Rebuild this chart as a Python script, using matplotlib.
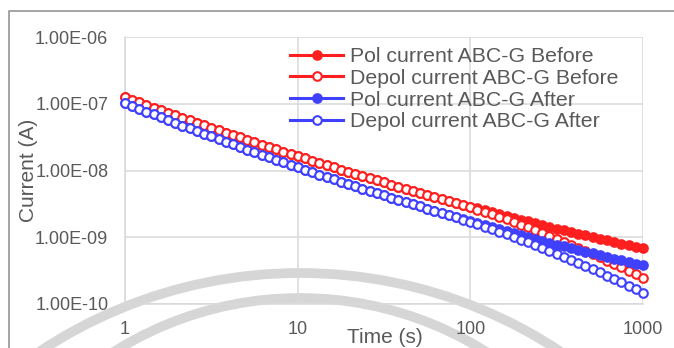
import numpy as np
import matplotlib
matplotlib.use("Agg")
import matplotlib.pyplot as plt
from matplotlib.patches import Circle
from matplotlib.lines import Line2D
from matplotlib.transforms import IdentityTransform
from matplotlib.ticker import FixedLocator, FuncFormatter, NullLocator

plt.rcParams['font.family'] = ['Liberation Sans', 'DejaVu Sans']

# time (s), 24 readings per decade
time_s = [1.00, 1.10, 1.21, 1.33, 1.47, 1.62, 1.78, 1.96, 2.15, 2.37, 2.61, 2.87,
          3.16, 3.48, 3.83, 4.22, 4.64, 5.11, 5.62, 6.19, 6.81, 7.50, 8.25, 9.09,
          10.0, 11.0, 12.1, 13.3, 14.7, 16.2, 17.8, 19.6, 21.5, 23.7, 26.1, 28.7,
          31.6, 34.8, 38.3, 42.2, 46.4, 51.1, 56.2, 61.9, 68.1, 75.0, 82.5, 90.9,
          100, 110, 121, 133, 147, 162, 178, 196, 215, 237, 261, 287,
          316, 348, 383, 422, 464, 511, 562, 619, 681, 750, 825, 909, 1000]

# log10 of current (A)
log_pol_before = [-6.900, -6.939, -6.979, -7.018, -7.057, -7.095, -7.133, -7.172, -7.210, -7.247,
                  -7.285, -7.322, -7.359, -7.396, -7.432, -7.468, -7.504, -7.540, -7.576, -7.611,
                  -7.647, -7.682, -7.716, -7.751, -7.785, -7.819, -7.853, -7.887, -7.920, -7.953,
                  -7.986, -8.019, -8.051, -8.083, -8.115, -8.147, -8.179, -8.210, -8.241, -8.272,
                  -8.303, -8.333, -8.363, -8.393, -8.423, -8.453, -8.482, -8.511, -8.540, -8.569,
                  -8.597, -8.625, -8.653, -8.681, -8.708, -8.736, -8.763, -8.790, -8.816, -8.843,
                  -8.869, -8.895, -8.920, -8.946, -8.971, -8.996, -9.021, -9.046, -9.070, -9.094,
                  -9.118, -9.142, -9.165]
log_depol_before = [-6.900, -6.939, -6.979, -7.018, -7.057, -7.095, -7.133, -7.172, -7.210, -7.247,
                    -7.285, -7.322, -7.359, -7.396, -7.432, -7.468, -7.504, -7.540, -7.576, -7.611,
                    -7.647, -7.682, -7.716, -7.751, -7.785, -7.819, -7.853, -7.887, -7.920, -7.953,
                    -7.986, -8.019, -8.051, -8.083, -8.115, -8.147, -8.179, -8.210, -8.241, -8.272,
                    -8.303, -8.333, -8.363, -8.393, -8.423, -8.455, -8.486, -8.519, -8.552, -8.587,
                    -8.622, -8.658, -8.695, -8.732, -8.771, -8.811, -8.851, -8.892, -8.934, -8.977,
                    -9.020, -9.065, -9.110, -9.156, -9.203, -9.251, -9.300, -9.350, -9.400, -9.451,
                    -9.503, -9.557, -9.610]
log_pol_after = [-6.990, -7.033, -7.076, -7.118, -7.160, -7.202, -7.244, -7.286, -7.327, -7.368,
                 -7.408, -7.449, -7.489, -7.529, -7.568, -7.608, -7.647, -7.686, -7.724, -7.762,
                 -7.800, -7.838, -7.876, -7.913, -7.950, -7.987, -8.023, -8.060, -8.095, -8.131,
                 -8.167, -8.202, -8.237, -8.271, -8.306, -8.340, -8.374, -8.407, -8.441, -8.474,
                 -8.507, -8.539, -8.572, -8.604, -8.635, -8.667, -8.698, -8.729, -8.760, -8.791,
                 -8.821, -8.851, -8.880, -8.910, -8.939, -8.968, -8.997, -9.025, -9.053, -9.081,
                 -9.109, -9.136, -9.163, -9.190, -9.217, -9.243, -9.269, -9.295, -9.320, -9.346,
                 -9.371, -9.396, -9.420]
log_depol_after = [-6.990, -7.033, -7.076, -7.118, -7.160, -7.202, -7.244, -7.286, -7.327, -7.368,
                   -7.408, -7.449, -7.489, -7.529, -7.568, -7.608, -7.647, -7.686, -7.724, -7.762,
                   -7.800, -7.838, -7.876, -7.913, -7.950, -7.987, -8.023, -8.060, -8.095, -8.131,
                   -8.167, -8.202, -8.237, -8.271, -8.306, -8.340, -8.374, -8.407, -8.441, -8.474,
                   -8.507, -8.539, -8.572, -8.604, -8.635, -8.669, -8.702, -8.736, -8.771, -8.808,
                   -8.844, -8.881, -8.918, -8.958, -8.997, -9.037, -9.078, -9.119, -9.161, -9.205,
                   -9.249, -9.293, -9.338, -9.384, -9.431, -9.478, -9.526, -9.575, -9.624, -9.675,
                   -9.726, -9.778, -9.830]

series = [
    ("Pol current ABC-G Before", log_pol_before, "#FF1F1F", True),
    ("Depol current ABC-G Before", log_depol_before, "#FF1F1F", False),
    ("Pol current ABC-G After", log_pol_after, "#4040FF", True),
    ("Depol current ABC-G After", log_depol_after, "#4040FF", False),
]

y_ticks = [1e-10, 1e-9, 1e-8, 1e-7, 1e-6]
x_ticks = [1, 10, 100, 1000]
text_color = "#595959"
grid_color = "#D9D9D9"

fig = plt.figure(figsize=(6.74, 3.48), dpi=100)
fig.patch.set_facecolor("white")

# faint seal behind the chart (pixel coordinates)
for cx, cy, r in [(300, -396, 471), (300, -299, 349)]:
    fig.add_artist(Circle((cx, cy), r, transform=IdentityTransform(), fill=False,
                          edgecolor="#D6D6D6", linewidth=7.0, zorder=-5))

# chart area border
fig.add_artist(Line2D([9 / 674, 9 / 674, 1.0], [0.0, 1 - 11 / 348, 1 - 11 / 348],
                      transform=fig.transFigure, color="#8C8C8C", linewidth=1.1))

ax = fig.add_axes([125 / 674, 44 / 348, 518 / 674, 267 / 348])
ax.set_facecolor("none")
ax.set_xscale("log")
ax.set_yscale("log")
ax.set_xlim(1, 1000)
ax.set_ylim(1e-10, 1e-6)

for label, vals, color, filled in series:
    ax.plot(time_s, 10 ** np.array(vals), "-", color=color, linewidth=2.2,
            marker="o", markersize=6.2, markeredgewidth=1.5,
            markerfacecolor=color if filled else "white", markeredgecolor=color,
            label=label, clip_on=False, zorder=3)

ax.xaxis.set_major_locator(FixedLocator(x_ticks))
ax.yaxis.set_major_locator(FixedLocator(y_ticks))
ax.xaxis.set_minor_locator(NullLocator())
ax.yaxis.set_minor_locator(NullLocator())
ax.xaxis.set_major_formatter(FuncFormatter(lambda v, p: f"{v:g}"))
ax.yaxis.set_major_formatter(FuncFormatter(lambda v, p: f"{v:.2E}"))
ax.tick_params(length=0, pad=12, labelsize=13, labelcolor=text_color)
ax.grid(True, color=grid_color, linewidth=1.1)
ax.set_axisbelow(True)
for side in ["top", "right"]:
    ax.spines[side].set_visible(False)
for side in ["left", "bottom"]:
    ax.spines[side].set_color(grid_color)
    ax.spines[side].set_linewidth(1.1)

fig.text(28 / 674, 1 - 170 / 348, "Current (A)", rotation=90, ha="center", va="center",
         fontsize=15, color=text_color)
fig.text(385 / 674, 5 / 348, "Time (s)", ha="center", va="baseline",
         fontsize=15, color=text_color)

leg = ax.legend(loc="upper left", bbox_to_anchor=((290 - 125) / 518, 1 - 10 / 267),
                frameon=False, fontsize=15.3, handlelength=2.5, handletextpad=0.3,
                labelspacing=0.13, borderpad=0, borderaxespad=0, numpoints=1)
for t in leg.get_texts():
    t.set_color(text_color)

fig.savefig("out.png", dpi=100)
